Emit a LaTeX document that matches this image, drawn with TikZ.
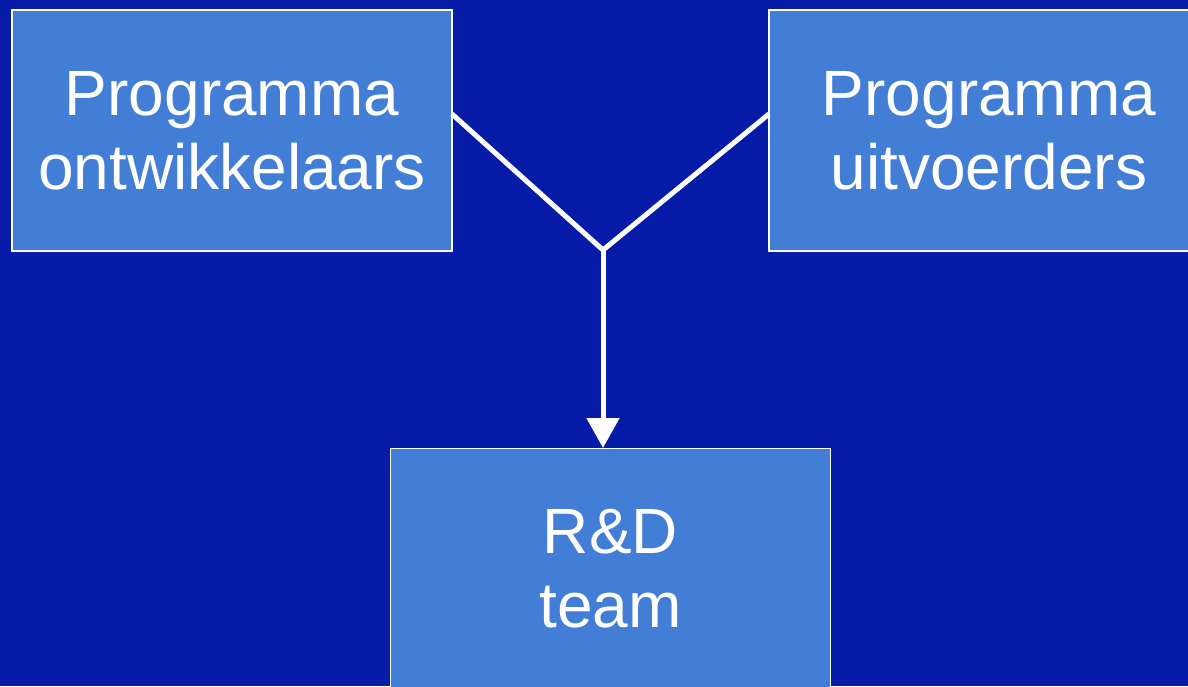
\documentclass[tikz,border=0pt]{standalone}
\usepackage{fontspec}
\setmainfont{Liberation Sans}
\usetikzlibrary{arrows.meta}
\definecolor{bgblue}{HTML}{061BA8}
\definecolor{boxblue}{HTML}{427DD6}
\begin{document}
\begin{tikzpicture}[x=1pt,y=-1pt,
  box/.style={draw=white,line width=1.5pt,fill=boxblue,minimum width=440pt,minimum height=241pt,inner sep=0pt,
    align=center,text=white,font=\fontsize{64}{74}\selectfont},
  conn/.style={draw=white,line width=5pt}]
\useasboundingbox[fill=bgblue] (0,0) rectangle (1188,686);
\begin{scope}
\clip (0,0) rectangle (1188,686);
\node[box] (dev) at (232,130.5) {Programma\\ontwikkelaars};
\node[box] (exe) at (989,130.5) {Programma\\uitvoerders};
\node[box] (rd) at (610.5,569) {R\&D\\team};
\coordinate (j) at (603,250);
\coordinate (dl) at (452,114);
\coordinate (el) at (769,114);
\coordinate (tip) at (603,448);
\draw[conn] (dl) -- (j) -- (el);
\draw[conn,-{Triangle[length=30pt,width=32pt]}] (j) -- (tip);
\end{scope}
\end{tikzpicture}
\end{document}
